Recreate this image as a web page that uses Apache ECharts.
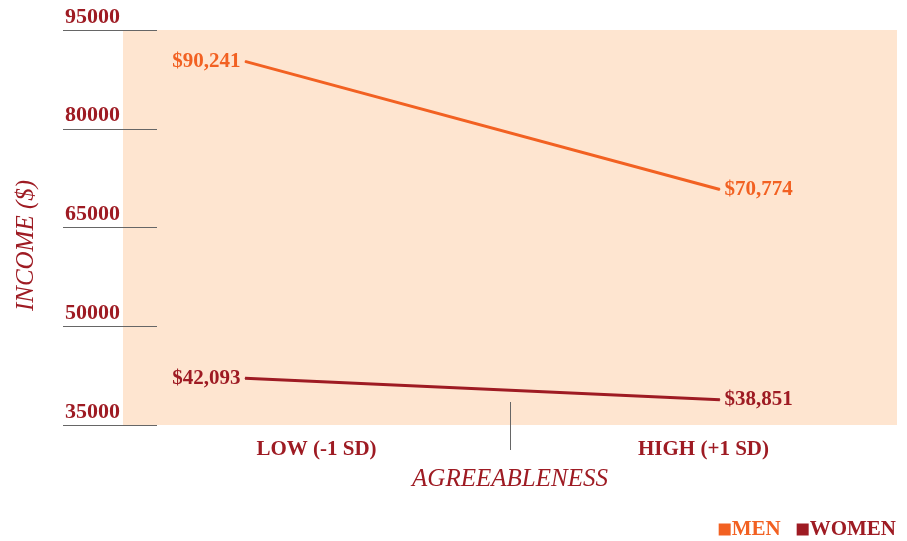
<!DOCTYPE html>
<html>
<head>
<meta charset="utf-8">
<script src="https://cdn.jsdelivr.net/npm/echarts@6/dist/echarts.min.js"></script>
<style>html,body{margin:0;padding:0;background:#fff}#c{width:907px;height:541px}</style>
</head>
<body>
<div id="c"></div>
<script>
const categories = ['LOW (-1 SD)', 'HIGH (+1 SD)'];
const menValues = [90241, 70774];
const womenValues = [42093, 38851];
const yTicks = [35000, 50000, 65000, 80000, 95000];
const seriesNames = ['MEN', 'WOMEN'];

const MEN_COLOR = '#F26122';
const WOMEN_COLOR = '#9E1B23';
const TEXT_RED = '#9E1B23';
const BG = '#FEE5D0';
const FONT = '"Liberation Serif", "DejaVu Serif", serif';

const yMin = yTicks[0], yMax = yTicks[yTicks.length - 1], yStep = yTicks[1] - yTicks[0];

const fmt = v => '$' + v.toLocaleString('en-US');

function mkData(vals) {
  return vals.map((v, i) => ({
    value: [i, v],
    label: { position: i === 0 ? 'left' : 'right' }
  }));
}

const chart = echarts.init(document.getElementById('c'));
chart.setOption({
  animation: false,
  legend: {
    right: 6, bottom: -4,
    icon: 'rect', itemWidth: 12, itemHeight: 12, itemGap: 16,
    data: [
      { name: seriesNames[0], textStyle: { color: MEN_COLOR } },
      { name: seriesNames[1], textStyle: { color: WOMEN_COLOR } }
    ],
    textStyle: { fontFamily: FONT, fontWeight: 'bold', fontSize: 21, padding: [2, 0, 0, -4] }
  },
  grid: [
    { left: 123, right: 10, top: 30, bottom: 116, show: true, backgroundColor: BG, borderWidth: 0 },
    { left: 63, width: 94, top: 30, bottom: 116 },
    { left: 123, right: 10, top: 402, height: 48 }
  ],
  xAxis: [
    { type: 'category', gridIndex: 0, data: categories, boundaryGap: true,
      axisLine: { show: false }, axisTick: { show: false },
      axisLabel: { color: TEXT_RED, fontFamily: FONT, fontWeight: 'bold', fontSize: 21, margin: 14 },
      name: 'AGREEABLENESS', nameLocation: 'middle', nameGap: 42,
      nameTextStyle: { color: TEXT_RED, fontFamily: FONT, fontStyle: 'italic', fontSize: 25 } },
    { type: 'value', gridIndex: 0, min: -0.257, max: 1.373, show: false },
    { type: 'value', gridIndex: 1, show: false },
    { type: 'value', gridIndex: 2, min: 0, max: 2, interval: 1,
      axisLine: { show: false }, axisTick: { show: false }, axisLabel: { show: false },
      splitLine: { show: true, showMinLine: false, showMaxLine: false, lineStyle: { color: '#666', width: 1 } } }
  ],
  yAxis: [
    { type: 'value', gridIndex: 0, min: yMin, max: yMax, interval: yStep, show: false },
    { type: 'value', gridIndex: 1, min: yMin, max: yMax, interval: yStep,
      axisLine: { show: false }, axisTick: { show: false },
      splitLine: { show: true, lineStyle: { color: '#666', width: 1 } },
      axisLabel: { inside: true, margin: 2, verticalAlign: 'bottom', color: TEXT_RED,
        formatter: v => String(v),
        fontFamily: FONT, fontWeight: 'bold', fontSize: 22, padding: [0, 0, 2, 0] },
      name: 'INCOME ($)', nameLocation: 'middle', nameGap: 24,
      nameTextStyle: { color: TEXT_RED, fontFamily: FONT, fontStyle: 'italic', fontSize: 25, padding: [0, 36, 0, 0] } },
    { type: 'value', gridIndex: 2, show: false }
  ],
  series: [
    { name: seriesNames[0], type: 'line', xAxisIndex: 1, yAxisIndex: 0,
      data: mkData(menValues), showSymbol: true, symbol: 'circle', symbolSize: 1,
      itemStyle: { color: MEN_COLOR }, lineStyle: { color: MEN_COLOR, width: 3 },
      label: { show: true, formatter: p => fmt(p.value[1]), color: MEN_COLOR,
        fontFamily: FONT, fontWeight: 'bold', fontSize: 21, distance: 4 } },
    { name: seriesNames[1], type: 'line', xAxisIndex: 1, yAxisIndex: 0,
      data: mkData(womenValues), showSymbol: true, symbol: 'circle', symbolSize: 1,
      itemStyle: { color: WOMEN_COLOR }, lineStyle: { color: WOMEN_COLOR, width: 3 },
      label: { show: true, formatter: p => fmt(p.value[1]), color: WOMEN_COLOR,
        fontFamily: FONT, fontWeight: 'bold', fontSize: 21, distance: 4 } }
  ]
});
</script>
</body>
</html>
